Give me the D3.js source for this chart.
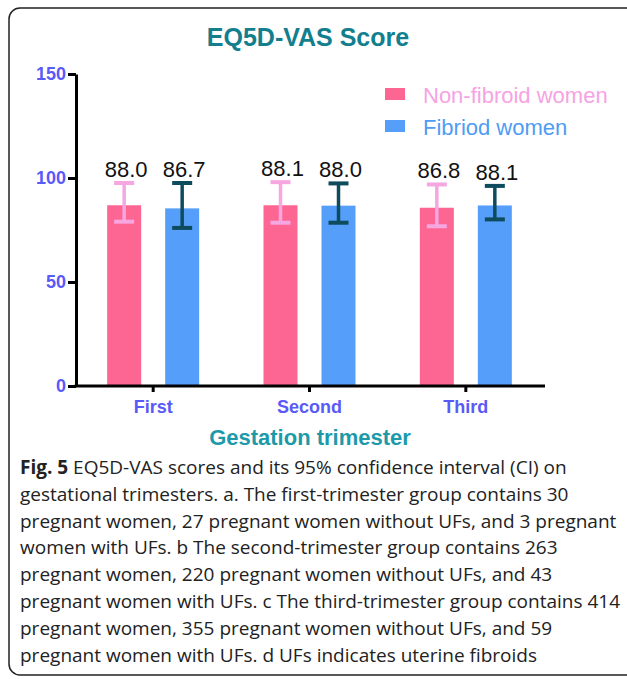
<!DOCTYPE html>
<html>
<head>
<meta charset="utf-8">
<script src="https://cdn.jsdelivr.net/npm/d3@7"></script>
<style>
  html, body { margin: 0; padding: 0; background: #fff; }
  svg { display: block; }
</style>
</head>
<body>
<svg id="chart" width="627" height="679"></svg>
<script>
// ---- data ----
const categories = ["First", "Second", "Third"];
const seriesNames = ["Non-fibroid women", "Fibriod women"];
const barNonFibroid = [86.9, 86.9, 85.7];
const barFibroid = [85.4, 86.7, 86.8];
const ciLowNonFibroid = [79.0, 78.5, 76.8];
const ciHighNonFibroid = [97.6, 98.0, 96.9];
const ciLowFibroid = [76.0, 78.5, 80.1];
const ciHighFibroid = [97.6, 97.4, 96.2];
const labelNonFibroid = ["88.0", "88.1", "86.8"];
const labelFibroid = ["86.7", "88.0", "88.1"];
const yTicks = [0, 50, 100, 150];
const titleText = "EQ5D-VAS Score";
const xTitleText = "Gestation trimester";
const captionBold = "Fig. 5";
const captionLines = [
  " EQ5D-VAS scores and its 95% confidence interval (CI) on",
  "gestational trimesters. a. The first-trimester group contains 30",
  "pregnant women, 27 pregnant women without UFs, and 3 pregnant",
  "women with UFs. b The second-trimester group contains 263",
  "pregnant women, 220 pregnant women without UFs, and 43",
  "pregnant women with UFs. c The third-trimester group contains 414",
  "pregnant women, 355 pregnant women without UFs, and 59",
  "pregnant women with UFs. d UFs indicates uterine fibroids"
];

// ---- styles ----
const barColors = ["#fd6592", "#559ffb"];
const errColors = ["#f6a6e0", "#0e4b5c"];
const legendTextColors = ["#f6a3e3", "#4f9cf3"];
const tickColor = "#5a5af8";
const chartFont = "'Liberation Sans', Arimo, Arial, sans-serif";

const svg = d3.select("#chart");

// frame
svg.append("rect")
  .attr("x", 9).attr("y", 8).attr("width", 640).attr("height", 667)
  .attr("rx", 11).attr("ry", 11)
  .attr("fill", "none").attr("stroke", "#222").attr("stroke-width", 1.5);

const x = d3.scaleBand().domain(categories).range([75, 544]).padding(0);
const xOff = d3.scalePoint().domain(seriesNames).range([-29, 29]);
const y = d3.scaleLinear().domain([0, 150]).range([386, 74]);
const barW = 34;

// title
svg.append("text")
  .attr("x", 308).attr("y", 45.5)
  .attr("text-anchor", "middle")
  .attr("font-family", chartFont).attr("font-weight", "bold")
  .attr("font-size", 25).attr("fill", "#137f8e")
  .text(titleText);

// bars
const data = categories.map((c, i) => ({
  cat: c,
  vals: [
    { s: seriesNames[0], v: barNonFibroid[i], lo: ciLowNonFibroid[i], hi: ciHighNonFibroid[i], lab: labelNonFibroid[i], k: 0 },
    { s: seriesNames[1], v: barFibroid[i], lo: ciLowFibroid[i], hi: ciHighFibroid[i], lab: labelFibroid[i], k: 1 }
  ]
}));

const g = svg.append("g");
const groups = g.selectAll("g.grp").data(data).join("g")
  .attr("transform", d => `translate(${x(d.cat) + x.bandwidth() / 2},0)`);

groups.selectAll("rect").data(d => d.vals).join("rect")
  .attr("x", d => xOff(d.s) - barW / 2)
  .attr("width", barW)
  .attr("y", d => y(d.v))
  .attr("height", d => y(0) - y(d.v))
  .attr("fill", d => barColors[d.k]);

// error bars
const eb = groups.selectAll("g.eb").data(d => d.vals).join("g");
eb.append("line")
  .attr("x1", d => xOff(d.s)).attr("x2", d => xOff(d.s))
  .attr("y1", d => y(d.lo)).attr("y2", d => y(d.hi))
  .attr("stroke", d => errColors[d.k]).attr("stroke-width", 3.5);
eb.append("line")
  .attr("x1", d => xOff(d.s) - 10).attr("x2", d => xOff(d.s) + 10)
  .attr("y1", d => y(d.hi)).attr("y2", d => y(d.hi))
  .attr("stroke", d => errColors[d.k]).attr("stroke-width", 4);
eb.append("line")
  .attr("x1", d => xOff(d.s) - 10).attr("x2", d => xOff(d.s) + 10)
  .attr("y1", d => y(d.lo)).attr("y2", d => y(d.lo))
  .attr("stroke", d => errColors[d.k]).attr("stroke-width", 4);

// value labels
groups.selectAll("text.val").data(d => d.vals).join("text")
  .attr("class", "val")
  .attr("x", d => xOff(d.s) + 2)
  .attr("y", d => y(d.hi) - 6)
  .attr("text-anchor", "middle")
  .attr("font-family", chartFont).attr("font-size", 22)
  .attr("fill", "#111")
  .text(d => d.lab);

// y axis
const yAxis = svg.append("g")
  .attr("transform", "translate(76,0)")
  .call(d3.axisLeft(y).tickValues(yTicks).tickSize(8).tickSizeOuter(0).tickPadding(2));
yAxis.select(".domain").attr("stroke", "#000").attr("stroke-width", 3);
yAxis.selectAll(".tick line").attr("stroke", "#000").attr("stroke-width", 3);
yAxis.selectAll(".tick text")
  .attr("font-family", chartFont).attr("font-weight", "bold")
  .attr("font-size", 18).attr("fill", tickColor);

// x axis
const xAxis = svg.append("g")
  .attr("transform", "translate(0,386)")
  .call(d3.axisBottom(x).tickSize(6).tickSizeOuter(0).tickPadding(8));
xAxis.select(".domain").attr("stroke", "#000").attr("stroke-width", 3)
  .attr("d", "M74.5,0H545");
xAxis.selectAll(".tick line").attr("stroke", "#000").attr("stroke-width", 3);
xAxis.selectAll(".tick text")
  .attr("font-family", chartFont).attr("font-weight", "bold")
  .attr("font-size", 18).attr("fill", tickColor);

// x axis title
svg.append("text")
  .attr("x", 310).attr("y", 445)
  .attr("text-anchor", "middle")
  .attr("font-family", chartFont).attr("font-weight", "bold")
  .attr("font-size", 22).attr("fill", "#1c9aa9")
  .text(xTitleText);

// legend
const leg = svg.append("g");
seriesNames.forEach((s, i) => {
  const ly = 88 + i * 32;
  leg.append("rect").attr("x", 385).attr("y", ly).attr("width", 20).attr("height", 12)
    .attr("fill", barColors[i]);
  leg.append("text").attr("x", 423).attr("y", ly + 15)
    .attr("font-family", chartFont).attr("font-size", 22)
    .attr("fill", legendTextColors[i]).text(s);
});

// caption
const cap = svg.append("text")
  .attr("font-family", "'Open Sans', sans-serif")
  .attr("font-size", 19).attr("fill", "#222");
captionLines.forEach((line, i) => {
  const t = cap.append("tspan").attr("x", 20).attr("y", 474 + i * 26.8);
  if (i === 0) {
    t.append("tspan").attr("font-weight", "bold").text(captionBold);
    cap.append("tspan").text(line);
  } else {
    t.text(line);
  }
});
</script>
</body>
</html>
